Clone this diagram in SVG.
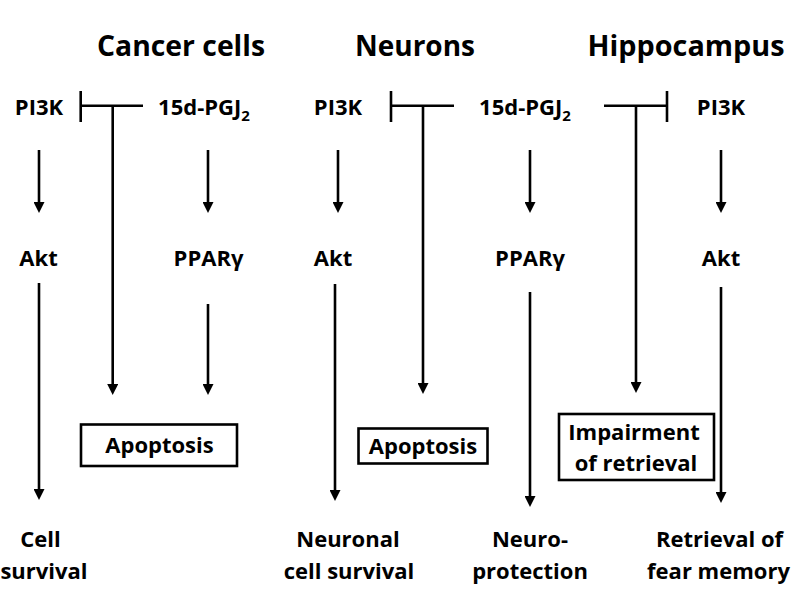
<svg xmlns="http://www.w3.org/2000/svg" width="794" height="592" viewBox="0 0 794 592">
<style>
text { font-family: "Open Sans", "Noto Sans", "Liberation Sans", sans-serif; font-weight: bold; fill: #000; text-anchor: middle; }
.hdr { font-size: 29px; }
.lbl { font-size: 22px; }
.sub { font-size: 15px; }
.conn line { stroke: #000; stroke-width: 2.6; fill: none; }
.box { fill: #fff; stroke: #000; stroke-width: 2.6; }
</style>
<defs>
<marker id="arr" viewBox="0 0 11 11" refX="3" refY="5.5" markerWidth="11" markerHeight="11" markerUnits="userSpaceOnUse" orient="auto">
<path d="M0,0 L11,5.5 L0,11 z" fill="#000"/>
</marker>
</defs>
<rect width="794" height="592" fill="#fff"/>

<g id="headers">
<text class="hdr" x="181" y="56" textLength="168" lengthAdjust="spacingAndGlyphs">Cancer cells</text>
<text class="hdr" x="415" y="56" textLength="120" lengthAdjust="spacingAndGlyphs">Neurons</text>
<text class="hdr" x="686" y="56" textLength="197" lengthAdjust="spacingAndGlyphs">Hippocampus</text>
</g>

<g id="connectors" class="conn">
<!-- top row arrows -->
<line x1="39" y1="150" x2="39" y2="205" marker-end="url(#arr)"/>
<line x1="208" y1="150" x2="208" y2="205" marker-end="url(#arr)"/>
<line x1="338" y1="150" x2="338" y2="205" marker-end="url(#arr)"/>
<line x1="530" y1="150" x2="530" y2="205" marker-end="url(#arr)"/>
<line x1="721" y1="150" x2="721" y2="205" marker-end="url(#arr)"/>
<!-- lower arrows -->
<line x1="39" y1="283" x2="39" y2="492" marker-end="url(#arr)"/>
<line x1="208" y1="304" x2="208" y2="387" marker-end="url(#arr)"/>
<line x1="335" y1="284" x2="335" y2="493" marker-end="url(#arr)"/>
<line x1="530" y1="292" x2="530" y2="499" marker-end="url(#arr)"/>
<line x1="721" y1="287" x2="721" y2="495" marker-end="url(#arr)"/>
<!-- inhibition T's -->
<line x1="80.7" y1="105.7" x2="143" y2="105.7"/>
<line x1="80.7" y1="91" x2="80.7" y2="122"/>
<line x1="112.7" y1="105.7" x2="112.7" y2="387" marker-end="url(#arr)"/>
<line x1="391" y1="105.7" x2="454" y2="105.7"/>
<line x1="391" y1="91" x2="391" y2="122"/>
<line x1="423" y1="105.7" x2="423" y2="386" marker-end="url(#arr)"/>
<line x1="604" y1="105.7" x2="667" y2="105.7"/>
<line x1="667" y1="91" x2="667" y2="122"/>
<line x1="636" y1="105.7" x2="636" y2="385" marker-end="url(#arr)"/>
</g>

<g id="pi3k-cancer"><text class="lbl" x="39" y="115">PI3K</text></g>
<g id="pgj2-cancer"><text class="lbl" x="204" y="115">15d-PGJ<tspan class="sub" dy="6">2</tspan></text></g>
<g id="pi3k-neurons"><text class="lbl" x="338" y="115">PI3K</text></g>
<g id="pgj2-neurons"><text class="lbl" x="525" y="115">15d-PGJ<tspan class="sub" dy="6">2</tspan></text></g>
<g id="pi3k-hippo"><text class="lbl" x="721" y="115">PI3K</text></g>

<g id="akt-cancer"><text class="lbl" x="38.5" y="266">Akt</text></g>
<g id="ppar-cancer"><text class="lbl" x="208.5" y="266">PPARγ</text></g>
<g id="akt-neurons"><text class="lbl" x="333" y="266">Akt</text></g>
<g id="ppar-neurons"><text class="lbl" x="530" y="266">PPARγ</text></g>
<g id="akt-hippo"><text class="lbl" x="721" y="266">Akt</text></g>

<g id="apoptosis-cancer">
<rect class="box" x="81" y="424.5" width="156" height="41.5"/>
<text class="lbl" x="159.5" y="453">Apoptosis</text>
</g>
<g id="apoptosis-neurons">
<rect class="box" x="358.5" y="428.5" width="129" height="35"/>
<text class="lbl" x="423" y="454">Apoptosis</text>
</g>
<g id="impairment-hippo">
<rect class="box" x="559" y="414" width="155" height="66"/>
<text class="lbl" x="634" y="440">Impairment</text>
<text class="lbl" x="636" y="471">of retrieval</text>
</g>

<g id="survival-cancer">
<text class="lbl" x="40.5" y="547">Cell</text>
<text class="lbl" x="44" y="579">survival</text>
</g>
<g id="survival-neurons">
<text class="lbl" x="348" y="547">Neuronal</text>
<text class="lbl" x="349" y="579">cell survival</text>
</g>
<g id="neuroprotection">
<text class="lbl" x="530" y="547">Neuro-</text>
<text class="lbl" x="530" y="579">protection</text>
</g>
<g id="fear-memory">
<text class="lbl" x="719.5" y="547">Retrieval of</text>
<text class="lbl" x="718.5" y="579">fear memory</text>
</g>
</svg>
